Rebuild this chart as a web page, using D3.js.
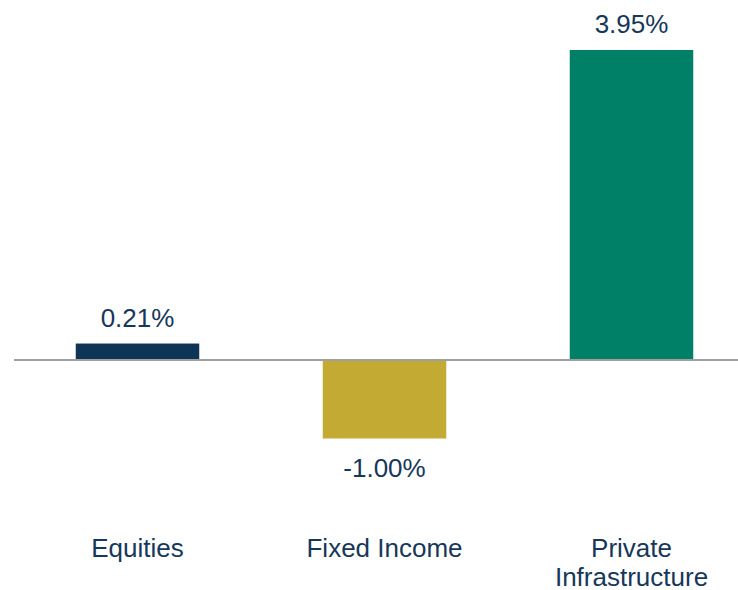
<!DOCTYPE html>
<html>
<head>
<meta charset="utf-8">
<script src="https://cdn.jsdelivr.net/npm/d3@7"></script>
<style>
  body { margin: 0; background: #fff; }
  text { font-family: "Liberation Sans", Arial, sans-serif; fill: #17375a; }
</style>
</head>
<body>
<div class="chart"></div>
<script>
// chart data
var categories = ["Equities", "Fixed Income", "Private Infrastructure"];
var labelLines = [["Equities"], ["Fixed Income"], ["Private", "Infrastructure"]];
var values = [0.21, -1.00, 3.95];
var colors = ["#0f3556", "#c3aa32", "#008066"];

var width = 738,
    height = 590;

var svg = d3.select(".chart").append("svg")
            .attr("width", width)
            .attr("height", height);

// x scale for bars
var x = d3.scaleBand()
          .domain(categories)
          .range([14, 755])
          .paddingInner(0.5)
          .paddingOuter(0.25);

// y scale
var y = d3.scaleLinear()
          .domain([-1, 3.95])
          .range([438.5, 50]);

// bars
svg.selectAll("rect.bar")
   .data(values)
   .enter()
   .append("rect")
   .attr("class", "bar")
   .attr("x", (d, i) => x(categories[i]))
   .attr("y", d => y(Math.max(0, d)))
   .attr("width", x.bandwidth())
   .attr("height", d => Math.abs(y(d) - y(0)))
   .style("fill", (d, i) => colors[i]);

// zero line
svg.append("line")
   .attr("x1", 14)
   .attr("x2", width)
   .attr("y1", y(0))
   .attr("y2", y(0))
   .style("stroke", "#a0a0a0")
   .style("stroke-width", 2);

// value labels
svg.selectAll("text.value")
   .data(values)
   .enter()
   .append("text")
   .attr("class", "value")
   .attr("x", (d, i) => x(categories[i]) + x.bandwidth() / 2)
   .attr("y", d => d >= 0 ? y(d) - 17 : y(d) + 38)
   .attr("text-anchor", "middle")
   .style("font-size", "26px")
   .text(d => d.toFixed(2) + "%");

// category labels
var cat = svg.selectAll("text.cat")
   .data(labelLines)
   .enter()
   .append("text")
   .attr("class", "cat")
   .attr("text-anchor", "middle")
   .style("font-size", "26px")
   .attr("transform", (d, i) => "translate(" + (x(categories[i]) + x.bandwidth() / 2) + ",557)");

cat.selectAll("tspan")
   .data(d => d)
   .enter()
   .append("tspan")
   .attr("x", 0)
   .attr("dy", (d, i) => i === 0 ? 0 : 29)
   .text(d => d);
</script>
</body>
</html>
